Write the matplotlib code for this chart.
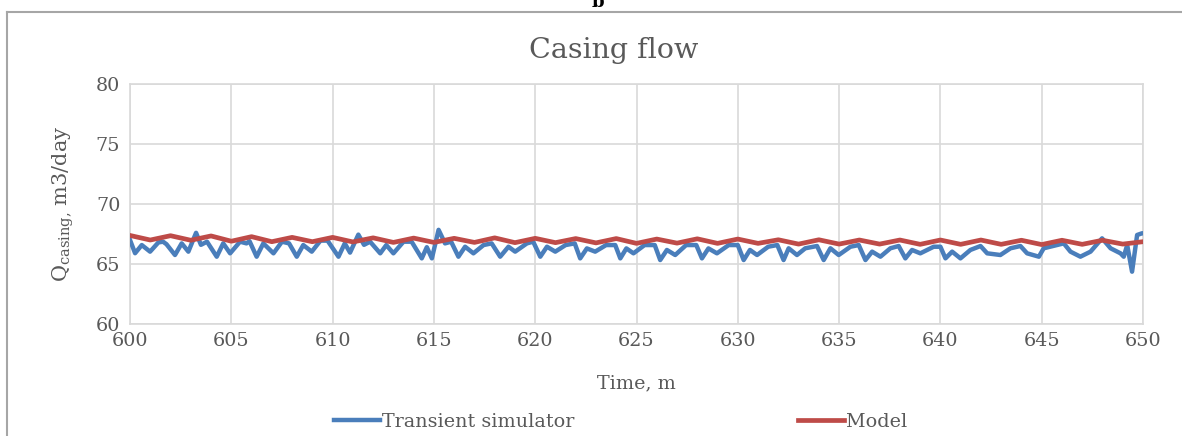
import numpy as np
import matplotlib
matplotlib.use("Agg")
import matplotlib.pyplot as plt
from matplotlib.lines import Line2D

# time (min) and casing flow (m3/day)
blue_t = [600.00, 600.25, 600.58, 600.99, 601.40, 601.63, 601.80, 602.22, 602.55, 602.88,
          603.26, 603.50, 603.80, 604.28, 604.60, 604.94, 605.43, 605.75, 605.90, 606.25,
          606.58, 607.08, 607.50, 607.85, 608.23, 608.55, 608.97, 609.40, 609.75, 610.29,
          610.60, 610.86, 611.27, 611.55, 611.85, 612.35, 612.65, 613.00, 613.50, 613.90,
          614.40, 614.65, 614.90, 615.23, 615.55, 615.85, 616.21, 616.54, 616.95, 617.45,
          617.85, 618.27, 618.68, 619.01, 619.59, 619.90, 620.25, 620.58, 620.99, 621.50,
          621.95, 622.22, 622.55, 622.96, 623.50, 623.95, 624.20, 624.50, 624.85, 625.40,
          625.90, 626.17, 626.50, 626.91, 627.45, 627.95, 628.23, 628.55, 628.97, 629.55,
          630.00, 630.29, 630.60, 630.95, 631.50, 631.95, 632.26, 632.51, 632.92, 633.33,
          633.91, 634.24, 634.57, 634.98, 635.56, 635.97, 636.30, 636.63, 637.04, 637.53,
          637.94, 638.27, 638.60, 639.01, 639.67, 640.00, 640.25, 640.58, 640.99, 641.48,
          641.98, 642.31, 642.96, 643.46, 643.95, 644.28, 644.86, 645.10, 645.76, 646.09,
          646.42, 646.91, 647.41, 647.98, 648.40, 648.89, 649.05, 649.22, 649.46, 649.71,
          649.95, 650.00]
blue_q = [67.00, 65.90, 66.58, 66.03, 66.80, 66.86, 66.65, 65.75, 66.72, 66.03,
          67.60, 66.60, 66.86, 65.61, 66.72, 65.89, 66.86, 66.72, 66.90, 65.61,
          66.72, 65.89, 66.86, 66.72, 65.61, 66.58, 66.03, 66.95, 66.95, 65.61,
          66.72, 65.95, 67.45, 66.60, 66.86, 65.89, 66.58, 65.89, 66.86, 66.86,
          65.47, 66.40, 65.47, 67.85, 66.72, 66.86, 65.61, 66.44, 65.89, 66.58,
          66.72, 65.61, 66.44, 66.03, 66.72, 66.86, 65.61, 66.44, 66.03, 66.58,
          66.72, 65.47, 66.30, 66.03, 66.58, 66.58, 65.47, 66.30, 65.89, 66.58,
          66.58, 65.33, 66.17, 65.75, 66.58, 66.58, 65.47, 66.30, 65.89, 66.58,
          66.58, 65.33, 66.17, 65.75, 66.44, 66.58, 65.33, 66.31, 65.75, 66.31,
          66.50, 65.33, 66.31, 65.75, 66.44, 66.58, 65.33, 66.03, 65.61, 66.31,
          66.50, 65.47, 66.17, 65.89, 66.44, 66.44, 65.47, 66.03, 65.47, 66.17,
          66.50, 65.89, 65.75, 66.31, 66.50, 65.89, 65.61, 66.31, 66.58, 66.72,
          66.03, 65.61, 66.03, 67.14, 66.31, 65.89, 65.61, 66.58, 64.36, 67.42,
          67.56, 67.56]

red_t = list(range(600, 651))
red_q = [67.38, 67.00, 67.36, 66.98, 67.34, 66.90, 67.28, 66.86, 67.22, 66.86,
         67.22, 66.84, 67.18, 66.80, 67.16, 66.80, 67.14, 66.80, 67.18, 66.78,
         67.14, 66.78, 67.12, 66.76, 67.12, 66.72, 67.08, 66.74, 67.10, 66.72,
         67.08, 66.72, 67.02, 66.66, 67.02, 66.66, 67.00, 66.66, 67.00, 66.64,
         67.00, 66.64, 67.00, 66.64, 66.98, 66.62, 66.98, 66.64, 66.98, 66.66,
         66.86]

x_ticks = np.arange(600, 651, 5)
y_ticks = np.arange(60, 81, 5)

plt.rcParams['font.family'] = ['DejaVu Serif']
txt = '#595959'
grid = '#d9d9d9'
fs = 13.8

fig = plt.figure(figsize=(11.82, 4.36), dpi=100)
ax = fig.add_axes([0.110, 0.257, 0.857, 0.550])

ax.plot(blue_t, blue_q, color='#4a7ebb', lw=3.2, solid_joinstyle='round',
        label='Transient simulator', zorder=3)
ax.plot(red_t, red_q, color='#be4b48', lw=3.4, solid_joinstyle='round',
        label='Model', zorder=4)

ax.set_xlim(600, 650)
ax.set_ylim(60, 80)
ax.set_xticks(x_ticks)
ax.set_yticks(y_ticks)
ax.grid(True, color=grid, lw=1.2)
ax.set_axisbelow(True)
for s in ax.spines.values():
    s.set_color(grid)
    s.set_linewidth(1.2)
ax.tick_params(length=0, colors=txt, labelsize=fs)
ax.tick_params(axis='x', pad=6)
ax.tick_params(axis='y', pad=7)

ax.set_title('Casing flow', color=txt, fontsize=20.5, pad=19, x=0.477)
ax.set_xlabel('Time, m', color=txt, fontsize=fs, labelpad=17)
ax.set_ylabel(r'Q$_{\mathregular{casing,}}\,$m3/day', color=txt, fontsize=15, labelpad=14)

leg = fig.legend(loc='center', bbox_to_anchor=(0.525, 0.032), ncol=2, frameon=False,
                 fontsize=fs, handlelength=2.4, handletextpad=0.1, columnspacing=11.7)
for t in leg.get_texts():
    t.set_color(txt)

# outer frame (left and top edges visible)
fig.add_artist(Line2D([0.006, 0.006], [0.0, 0.973], color='#a6a6a6', lw=1.5))
fig.add_artist(Line2D([0.006, 1.0], [0.973, 0.973], color='#a6a6a6', lw=1.5))
fig.text(0.506, 0.995, 'b', fontsize=13, fontweight='bold', ha='center', va='center')

fig.savefig('out.png', dpi=100)
